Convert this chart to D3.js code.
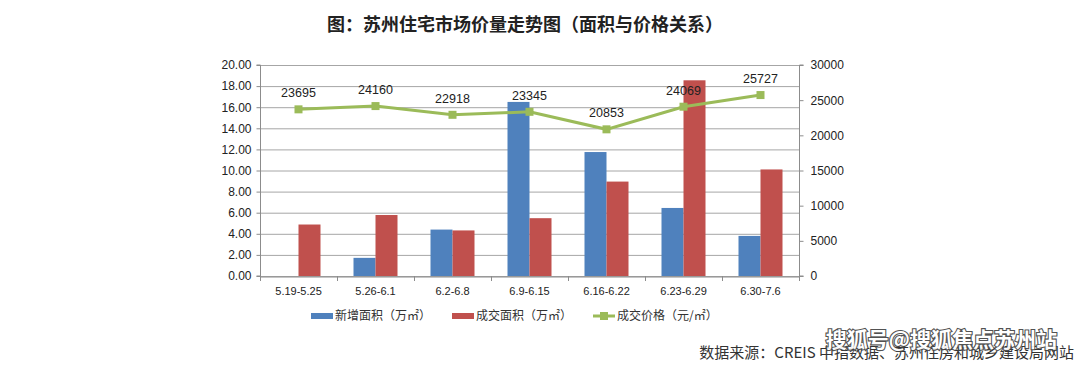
<!DOCTYPE html>
<html><head><meta charset="utf-8">
<script src="https://cdn.jsdelivr.net/npm/d3@7"></script>
<style>body{margin:0;background:#fff;}svg{display:block;}</style>
</head><body>
<svg id="c" width="1080" height="365"></svg>
<script>
const categories = ["5.19-5.25","5.26-6.1","6.2-6.8","6.9-6.15","6.16-6.22","6.23-6.29","6.30-7.6"];
const newArea = [0, 1.72, 4.4, 16.5, 11.75, 6.45, 3.8];
const dealArea = [4.88, 5.78, 4.32, 5.48, 8.95, 18.55, 10.1];
const price = [23695, 24160, 22918, 23345, 20853, 24069, 25727];
const leftTicks = [0,2,4,6,8,10,12,14,16,18,20];
const rightTicks = [0,5000,10000,15000,20000,25000,30000];
const seriesNames = ["新增面积（万㎡）","成交面积（万㎡）","成交价格（元/㎡）"];
const colors = ["#4F81BD","#C0504D","#9BBB59"];

const svg = d3.select("#c");
const L = 260, R = 799, T = 65, B = 276;
const x = d3.scaleBand().domain(categories).range([L, R]);
const yL = d3.scaleLinear().domain([0,20]).range([B, T]);
const yR = d3.scaleLinear().domain([0,30000]).range([B, T]);
const font = "'Liberation Sans', Arial, sans-serif";

// title
svg.append("text").attr("x", 525).attr("y", 31).attr("text-anchor","middle")
  .attr("font-family","'Noto Sans CJK SC'").attr("font-weight","bold").attr("font-size",18)
  .attr("fill","#222").text("图：苏州住宅市场价量走势图（面积与价格关系）");

// gridlines
svg.append("g").selectAll("line").data(leftTicks).join("line")
  .attr("x1", L).attr("x2", R).attr("y1", d=>yL(d)+0.5).attr("y2", d=>yL(d)+0.5)
  .attr("stroke","#a6a6a6").attr("stroke-width",1);

// left axis
const gl = svg.append("g").attr("transform",`translate(${L+0.5},0)`)
  .call(d3.axisLeft(yL).tickValues(leftTicks).tickFormat(d3.format(".2f")).tickSize(4).tickPadding(5));
gl.select(".domain").attr("stroke","#8c8c8c").attr("d",`M-4,${T}H0V${B}H-4`);
gl.selectAll(".tick line").attr("stroke","#8c8c8c");
gl.selectAll("text").attr("font-family",font).attr("font-size",12).attr("fill","#222");

// right axis
const gr = svg.append("g").attr("transform",`translate(${R+0.5},0)`)
  .call(d3.axisRight(yR).tickValues(rightTicks).tickFormat(d3.format("d")).tickSize(4).tickPadding(7));
gr.select(".domain").attr("stroke","#8c8c8c").attr("d",`M4,${T}H0V${B}H4`);
gr.selectAll(".tick line").attr("stroke","#8c8c8c");
gr.selectAll("text").attr("font-family",font).attr("font-size",12).attr("fill","#222");

// x axis
const gx = svg.append("g").attr("transform",`translate(0,${B+0.5})`)
  .call(d3.axisBottom(x).tickSize(0).tickPadding(11));
gx.select(".domain").attr("stroke","#8c8c8c");
gx.selectAll("text").attr("font-family",font).attr("font-size",11).attr("fill","#222");
svg.append("g").selectAll("line").data(d3.range(categories.length+1)).join("line")
  .attr("x1", i=>L + i*x.step()+0.5).attr("x2", i=>L + i*x.step()+0.5)
  .attr("y1", B).attr("y2", B+5).attr("stroke","#8c8c8c");

// bars
const bw = 22;
const bars = svg.append("g");
bars.selectAll(".b").data(newArea).join("rect")
  .attr("x",(d,i)=>x(categories[i])+x.bandwidth()/2-bw).attr("width",bw)
  .attr("y",d=>yL(d)).attr("height",d=>B-yL(d)).attr("fill",colors[0]);
bars.selectAll(".r").data(dealArea).join("rect").attr("class","r")
  .attr("x",(d,i)=>x(categories[i])+x.bandwidth()/2).attr("width",bw)
  .attr("y",d=>yL(d)).attr("height",d=>B-yL(d)).attr("fill",colors[1]);

// price line
const cx = (d,i)=>x(categories[i])+x.bandwidth()/2;
svg.append("path").datum(price)
  .attr("d", d3.line().x(cx).y(d=>yR(d)))
  .attr("fill","none").attr("stroke",colors[2]).attr("stroke-width",3);
svg.append("g").selectAll("rect").data(price).join("rect")
  .attr("x",(d,i)=>cx(d,i)-4).attr("y",d=>yR(d)-4).attr("width",8).attr("height",8)
  .attr("fill",colors[2]);
svg.append("g").selectAll("text").data(price).join("text")
  .attr("x",(d,i)=>cx(d,i)).attr("y",d=>yR(d)-12).attr("text-anchor","middle")
  .attr("font-family",font).attr("font-size",12.5).attr("fill","#222").text(d=>d);

// legend
const lg = svg.append("g").attr("font-family","'Noto Sans CJK SC'").attr("font-size",12).attr("fill","#333");
const lx = [311, 452, 593];
lg.append("rect").attr("x",lx[0]).attr("y",313).attr("width",22).attr("height",6).attr("fill",colors[0]);
lg.append("rect").attr("x",lx[1]).attr("y",313).attr("width",22).attr("height",6).attr("fill",colors[1]);
lg.append("line").attr("x1",lx[2]).attr("x2",lx[2]+22).attr("y1",316).attr("y2",316).attr("stroke",colors[2]).attr("stroke-width",3);
lg.append("rect").attr("x",lx[2]+7).attr("y",312).attr("width",8).attr("height",8).attr("fill",colors[2]);
seriesNames.forEach((n,i)=>{
  lg.append("text").attr("x",lx[i]+24).attr("y",320).text(n);
});

// source
svg.append("text").attr("x",1074).attr("y",358).attr("text-anchor","end")
  .attr("font-family","'Noto Sans CJK SC'").attr("font-size",15).attr("fill","#333")
  .text("数据来源：CREIS 中指数据、苏州住房和城乡建设局网站");
// watermark
svg.append("text").attr("x",1057).attr("y",347).attr("text-anchor","end")
  .attr("font-family","'Noto Sans CJK SC'").attr("font-weight","bold").attr("font-size",21)
  .attr("fill","#fff").attr("stroke","#444").attr("stroke-width",2.2).attr("paint-order","stroke")
  .attr("opacity",0.92).text("搜狐号@搜狐焦点苏州站");
</script>
</body></html>
